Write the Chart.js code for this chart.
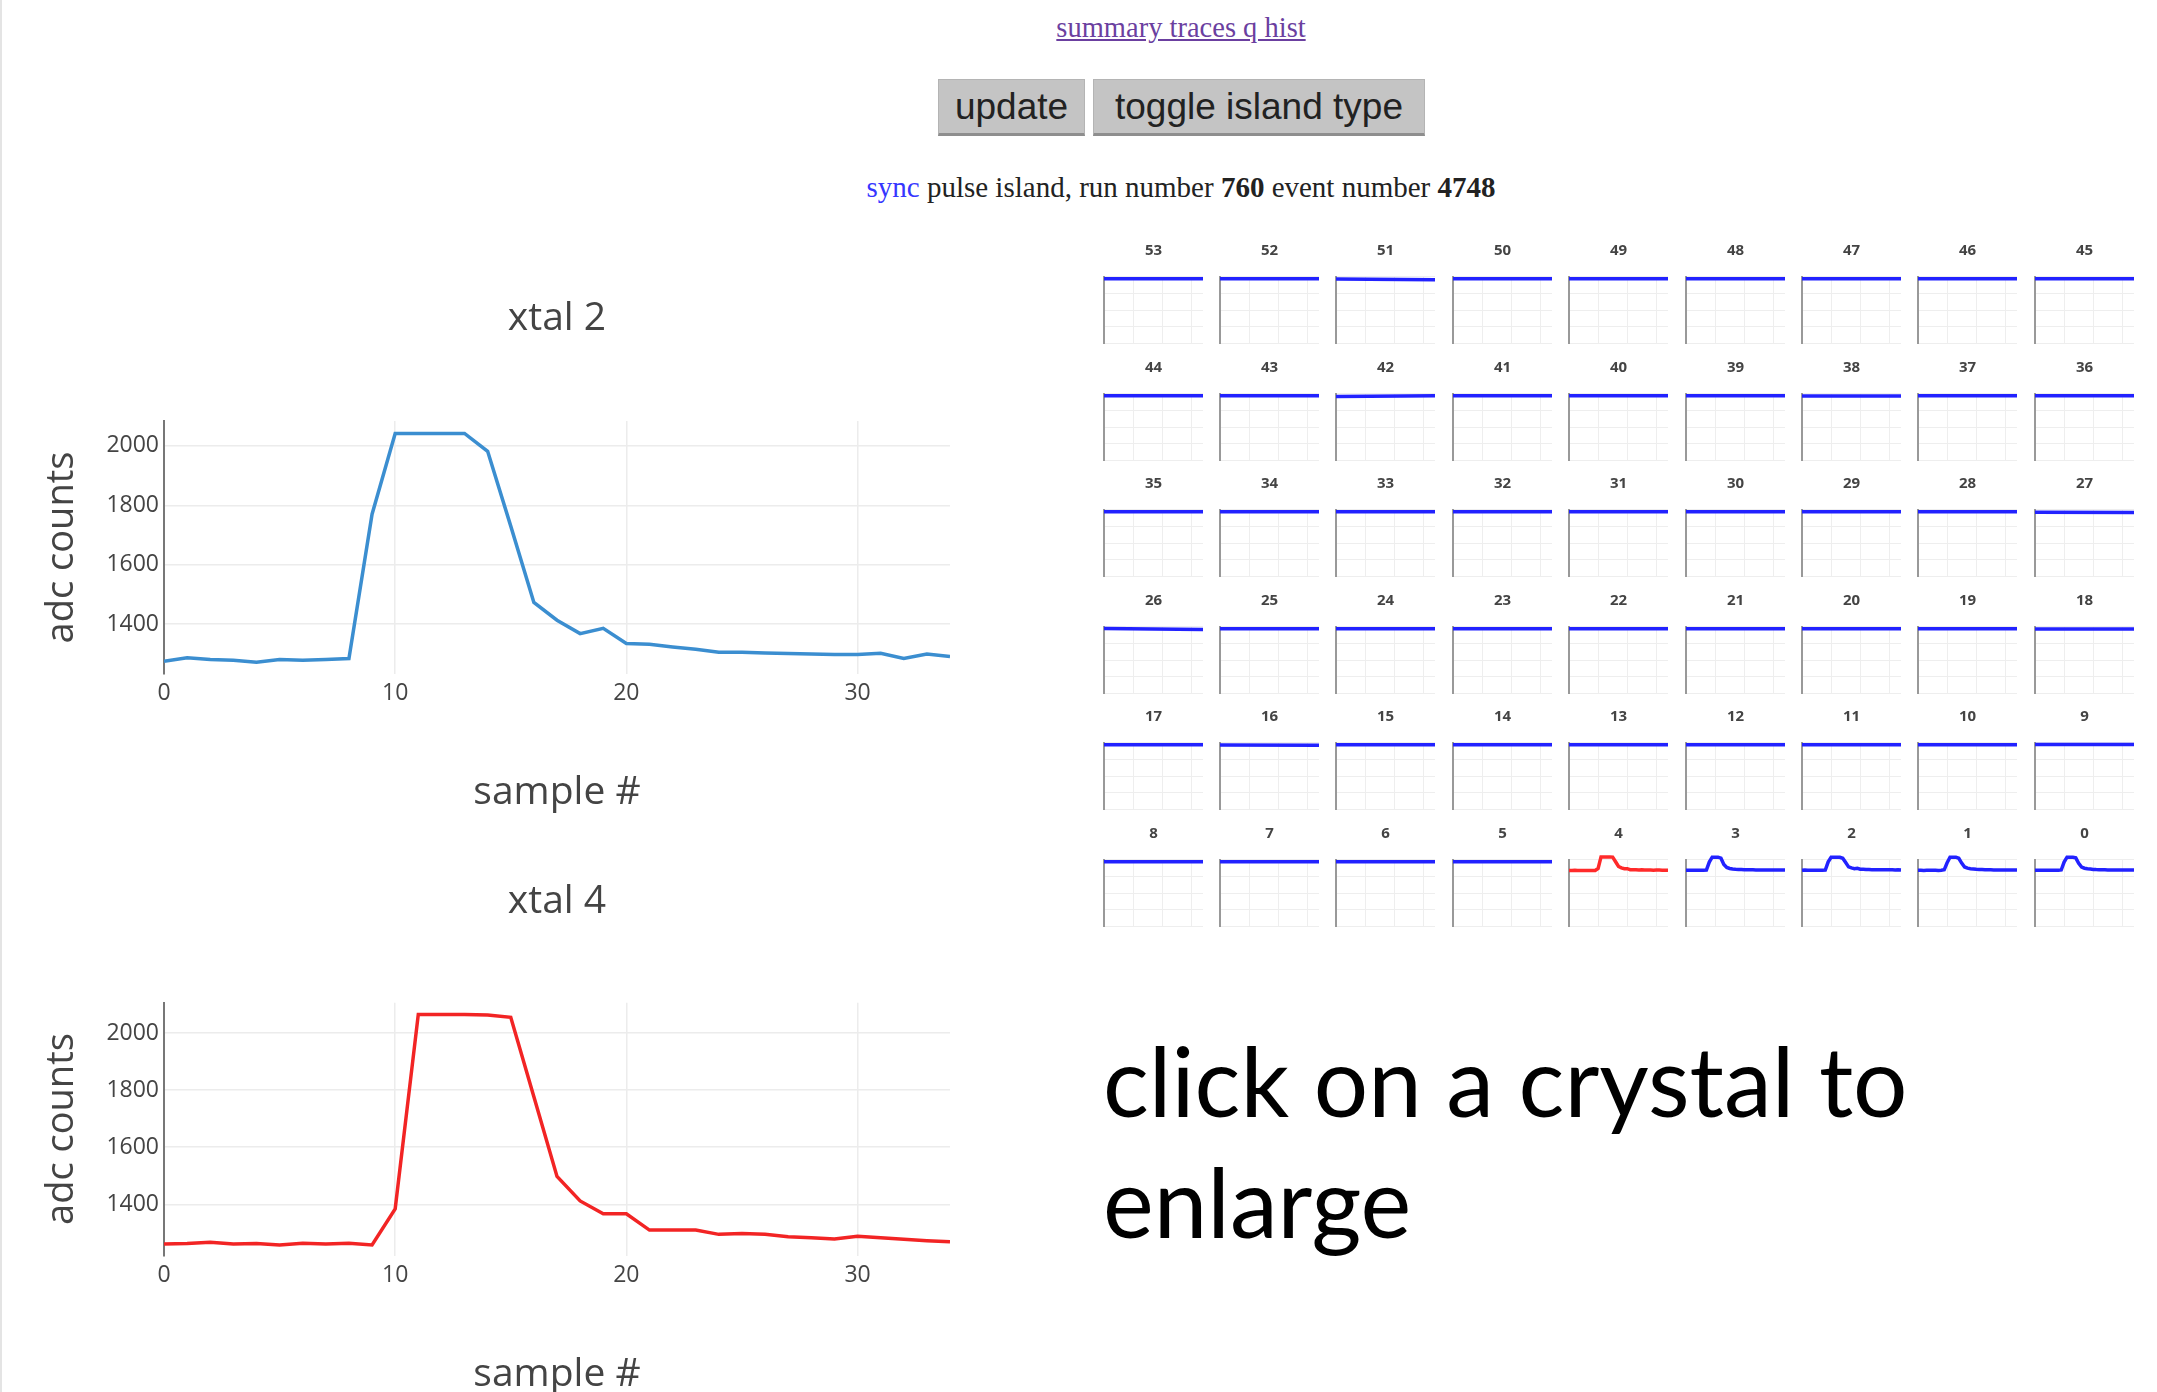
<!DOCTYPE html>
<html>
<head>
<meta charset="utf-8">
<script src="https://cdn.jsdelivr.net/npm/chart.js@4.4.1/dist/chart.umd.min.js"></script>
<style>
body{margin:0;width:2157px;height:1392px;background:#fff;position:relative;overflow:hidden}
canvas{position:absolute}
#edge{position:absolute;left:0;top:0;width:2px;height:1392px;background:#e4e4e4}
#links{position:absolute;left:881px;width:600px;top:14px;text-align:center;font-family:'Liberation Serif',serif;font-size:28.5px;line-height:28px}
#links a{color:#6b3fa0}
.btn{position:absolute;top:79px;height:57px;background:#c4c4c4;border:1px solid #b4b4b4;border-bottom:3px solid #8e8e8e;box-sizing:border-box;font-family:'Liberation Sans',Arial,sans-serif;font-size:37px;color:#222;display:flex;align-items:center;justify-content:center}
#info{position:absolute;left:781px;width:800px;top:173px;text-align:center;font-family:'Liberation Serif',serif;font-size:29px;line-height:28px;color:#222}
#info .sync{color:#3636ff}
#hint{position:absolute;left:1103px;top:1019px;font-family:Lato,sans-serif;font-size:96px;line-height:121px;color:#000}
</style>
</head>
<body>
<div id="edge"></div>
<div id="links"><a href="#">summary traces q hist</a></div>
<div class="btn" style="left:938px;width:147px">update</div>
<div class="btn" style="left:1093px;width:332px">toggle island type</div>
<div id="info"><span class="sync">sync</span> pulse island, run number <b>760</b> event number <b>4748</b></div>
<div id="hint">click on a crystal to<br>enlarge</div>

<canvas id="xtal2" width="980" height="560" style="left:0;top:260px"></canvas>
<canvas id="xtal4" width="980" height="552" style="left:0;top:840px"></canvas>

<script>
// sample numbers (x axis)
const samples = [0,1,2,3,4,5,6,7,8,9,10,11,12,13,14,15,16,17,18,19,20,21,22,23,24,25,26,27,28,29,30,31,32,33,34]

// adc counts
const xtal2 = [1275,1287,1281,1278,1272,1281,1278,1281,1284,1770,2042,2042,2042,2042,1982,1730,1473,1413,1368,1386,1335,1332,1323,1315,1305,1305,1303,1301,1299,1298,1298,1302,1284,1299,1291]
const xtal4 = [1261,1263,1267,1261,1263,1258,1264,1261,1264,1258,1384,2065,2065,2065,2063,2055,1777,1498,1412,1367,1367,1310,1310,1310,1295,1298,1295,1287,1283,1279,1288,1283,1278,1273,1269]

// small pulses in crystals 0,1,3 (estimated from the thumbnails)
const xtal0 = [1272,1270,1274,1271,1273,1270,1272,1271,1270,1290,1760,2048,2048,2048,2010,1680,1460,1395,1360,1345,1325,1315,1310,1302,1298,1296,1294,1292,1291,1289,1288,1287,1286,1285,1284]
const xtal1 = [1268,1270,1266,1269,1267,1270,1268,1266,1269,1300,1720,2048,2048,2048,1985,1700,1470,1400,1365,1350,1330,1318,1312,1305,1300,1298,1295,1292,1290,1289,1287,1286,1284,1283,1282]
const xtal3 = [1275,1278,1272,1276,1274,1277,1275,1290,1760,2048,2048,2048,1990,1620,1440,1380,1350,1330,1325,1318,1310,1305,1300,1298,1296,1295,1293,1292,1290,1290,1288,1287,1286,1285,1284]

// flat crystals: level at first and last sample, indexed by crystal number (0-4 have pulses)
const flatLeft  = [null,null,null,null,null,1780,1780,1780,1780,1800,1780,1780,1780,1780,1780,1780,1770,1780,1760,1780,1780,1780,1780,1780,1780,1780,1790,1750,1780,1780,1780,1775,1780,1780,1780,1780,1780,1780,1770,1780,1780,1780,1740,1780,1780,1780,1780,1780,1780,1780,1780,1760,1780,1780]
const flatRight = [null,null,null,null,null,1780,1780,1780,1780,1800,1780,1780,1780,1780,1780,1780,1750,1780,1760,1780,1780,1780,1780,1780,1780,1780,1740,1740,1780,1780,1780,1775,1780,1780,1780,1780,1780,1780,1760,1780,1780,1780,1780,1780,1780,1780,1780,1780,1780,1780,1780,1720,1780,1780]

const pulses = {0:xtal0, 1:xtal1, 2:xtal2, 3:xtal3, 4:xtal4}
const selected = 4

const gray = '#444'
const font = (size, weight) => ({family:'Open Sans', size:size, weight:weight || 'normal', lineHeight:1})
const tickFont = {family:'Open Sans', size:23}

function bigChart(id, title, values, color, yMin, yMax, g){
    new Chart(document.getElementById(id),{
        type:'line',
        data:{datasets:[{
            data:samples.map((s,i)=>({x:s,y:values[i]})),
            borderColor:color, borderWidth:3.5, pointRadius:0, tension:0, fill:false
        }]},
        options:{
            responsive:false, animation:false,
            layout:{padding:{left:0,right:30,top:0,bottom:0}},
            plugins:{legend:{display:false}, tooltip:{enabled:false}},
            scales:{
                // empty top axis, only used to center the title over the plot area
                top:{type:'linear',position:'top',min:0,max:34,display:true,
                    ticks:{display:false},grid:{display:false},border:{display:false},
                    title:{display:true,text:title,color:gray,font:font(39),padding:{top:g.titleTop,bottom:0}},
                    afterFit:s=>{s.height=g.areaTop}
                },
                x:{type:'linear',min:0,max:34,
                    ticks:{stepSize:10,includeBounds:false,color:gray,font:tickFont,padding:6,callback:v=>String(v)},
                    grid:{color:'#ececec',lineWidth:1.5,drawTicks:false},
                    border:{display:false},
                    title:{display:true,text:'sample #',color:gray,font:font(39),padding:{top:0,bottom:g.xTitlePad}},
                    afterFit:s=>{s.height=g.xHeight}
                },
                y:{min:yMin,max:yMax,
                    ticks:{stepSize:200,includeBounds:false,color:gray,font:tickFont,padding:5,callback:v=>String(v)},
                    grid:{color:'#ececec',lineWidth:1.5,drawTicks:false},
                    border:{color:'#777',width:2},
                    title:{display:true,text:'adc counts',color:gray,font:font(38),padding:{top:43.5,bottom:0}},
                    afterFit:s=>{s.width=164}
                }
            }
        }
    })
}

bigChart('xtal2','xtal 2',xtal2,'#3b8ed0',1232,2084,{titleTop:39.5,areaTop:161,xHeight:146,xTitlePad:7.5})
bigChart('xtal4','xtal 4',xtal4,'#f22424',1221,2106,{titleTop:42.1,areaTop:162.7,xHeight:136.5,xTitlePad:-2.5})

// 9 x 6 grid of thumbnails, crystal 53 top left down to 0 bottom right
for(let r=0;r<6;r++){
    for(let c=0;c<9;c++){
        const ch = 53-(r*9+c)
        const cv = document.createElement('canvas')
        cv.width = 110
        cv.height = 108
        cv.style.left = (1099.5+c*116.4)+'px'
        cv.style.top = (240+r*116.5)+'px'
        document.body.appendChild(cv)
        const pts = pulses[ch]
            ? samples.map((s,i)=>({x:s,y:pulses[ch][i]}))
            : [{x:0,y:flatLeft[ch]},{x:34,y:flatRight[ch]}]
        new Chart(cv,{
            type:'line',
            data:{datasets:[{data:pts,borderColor:ch===selected?'#ff2a2a':'#2222ff',borderWidth:3.5,pointRadius:0,tension:0,clip:false}]},
            options:{
                responsive:false, animation:false,
                layout:{padding:{left:4,right:7,top:0,bottom:4.7}},
                plugins:{
                    legend:{display:false}, tooltip:{enabled:false},
                    title:{display:true,text:String(ch),color:gray,font:font(15,'bold'),padding:{top:3.2,bottom:18.5}}
                },
                scales:{
                    x:{type:'linear',min:0,max:34,ticks:{display:false,stepSize:10,includeBounds:false},
                        grid:{color:'#eeeeee',drawTicks:false},border:{display:false},afterFit:s=>{s.height=0}},
                    y:{min:-2050,max:1900,ticks:{display:false,stepSize:1000,includeBounds:false},
                        grid:{color:'#eeeeee',drawTicks:false},border:{color:'#999',width:2},afterFit:s=>{s.width=0}}
                }
            }
        })
    }
}
</script>
</body>
</html>
